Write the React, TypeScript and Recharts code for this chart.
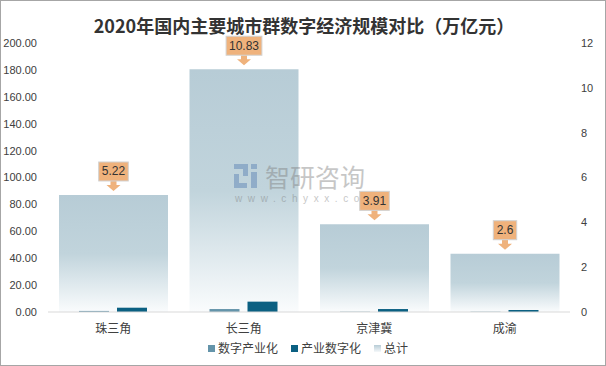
import { Bar, ComposedChart, LabelList, XAxis, YAxis } from "recharts";

const categories = ["珠三角", "长三角", "京津冀", "成渝"];
const digitalIndustry = [0.8, 2.2, 0.2, 0.2];
const industryDigital = [3.2, 7.7, 2.2, 1.5];
const totals = [5.22, 10.83, 3.91, 2.6];

const leftTicks = [0, 20, 40, 60, 80, 100, 120, 140, 160, 180, 200];
const rightTicks = [0, 2, 4, 6, 8, 10, 12];

const COLORS = {
  digitalIndustry: "#6494AA",
  industryDigital: "#0B6082",
  callout: "#EFB27C",
  text: "#404040",
};

const data = categories.map((name, i) => ({
  name,
  digitalIndustry: digitalIndustry[i],
  industryDigital: industryDigital[i],
  total: totals[i],
}));

const FONT = "'Liberation Sans', 'Noto Sans CJK SC', sans-serif";
const CJK = "'Noto Sans CJK SC', sans-serif";

function Callout(props: any) {
  const { x, y, width, value } = props;
  const cx = x + width / 2;
  const tip = y - 4;
  const bb = tip - 10;
  const label = String(value);
  const w = label.replace(".", "").length * 6.2 + 3 + 8;
  const h = 19;
  return (
    <g>
      <polygon
        points={`${cx - 3},${bb} ${cx + 3},${bb} ${cx + 3},${bb + 4} ${cx + 7},${bb + 4} ${cx},${tip} ${cx - 7},${bb + 4} ${cx - 3},${bb + 4}`}
        fill={COLORS.callout}
      />
      <rect x={cx - w / 2} y={bb - h} width={w} height={h} fill={COLORS.callout} stroke="#d2d2d2" strokeWidth={1} />
      <text x={cx} y={bb - h / 2 + 4} textAnchor="middle" fontSize={12} fill="#333" fontFamily={FONT}>
        {label}
      </text>
    </g>
  );
}

function Watermark() {
  return (
    <div style={{ position: "absolute", left: 233, top: 161, pointerEvents: "none", opacity: 0.42 }}>
      <svg width={26} height={26} style={{ position: "absolute", left: 0, top: 2 }}>
        <rect x={0} y={0} width={14} height={5} fill="#4f78b0" />
        <rect x={9} y={0} width={5} height={12} fill="#4f78b0" />
        <rect x={0} y={10} width={5} height={14} fill="#4f78b0" />
        <rect x={5} y={19} width={8} height={5} fill="#4f78b0" />
        <rect x={17} y={0} width={6} height={5} fill="#4f78b0" />
        <rect x={17} y={8} width={6} height={16} fill="#4f78b0" />
      </svg>
      <div
        style={{
          position: "absolute",
          left: 31,
          top: 1,
          fontSize: 25,
          lineHeight: "26px",
          height: 26,
          color: "#7a7a7a",
          fontFamily: CJK,
          whiteSpace: "nowrap",
        }}
      >
        智研咨询
      </div>
      <div
        style={{
          position: "absolute",
          left: 1,
          top: 31,
          fontSize: 10,
          lineHeight: "12px",
          color: "#7a7a7a",
          fontFamily: FONT,
          whiteSpace: "nowrap",
          letterSpacing: 5.6,
        }}
      >
        www.chyxx.co
      </div>
    </div>
  );
}

function LegendBox() {
  const items = [
    { label: "数字产业化", fill: COLORS.digitalIndustry },
    { label: "产业数字化", fill: COLORS.industryDigital },
    { label: "总计", fill: "linear-gradient(#B7CCD6, #F5F8FA)" },
  ];
  return (
    <div
      style={{
        position: "absolute",
        left: 207,
        top: 338,
        display: "flex",
        alignItems: "center",
        fontSize: 12,
        color: COLORS.text,
        fontFamily: CJK,
        lineHeight: "18px",
      }}
    >
      {items.map((it) => (
        <span key={it.label} style={{ display: "flex", alignItems: "center", marginRight: 13 }}>
          <span style={{ display: "inline-block", width: 7, height: 7, background: it.fill, marginRight: 3 }} />
          {it.label}
        </span>
      ))}
    </div>
  );
}

export default function App() {
  return (
    <div
      style={{
        position: "absolute",
        left: 0,
        top: 0,
        width: 606,
        height: 366,
        boxSizing: "border-box",
        border: "1px solid #a6a6a6",
        background: "#fff",
        overflow: "hidden",
      }}
    >
      <div
        style={{
          position: "absolute",
          left: 0,
          top: 11,
          width: 606,
          textAlign: "center",
          fontSize: 18,
          fontWeight: "bold",
          color: "#333",
          fontFamily: CJK,
          lineHeight: "26px",
        }}
      >
        2020年国内主要城市群数字经济规模对比（万亿元）
      </div>
      <div style={{ position: "absolute", left: -1, top: -1 }}>
        <ComposedChart
          width={606}
          height={366}
          data={data}
          barGap={8}
          margin={{ top: 43, right: 0, bottom: 30, left: 0 }}
        >
          <defs>
            <linearGradient id="totalGrad" x1="0" y1="0" x2="0" y2="1">
              <stop offset="0" stopColor="#B7CCD6" />
              <stop offset="0.5" stopColor="#C1D4DC" />
              <stop offset="1" stopColor="#FAFCFD" />
            </linearGradient>
          </defs>
          <XAxis
            xAxisId="a"
            dataKey="name"
            height={24}
            tickLine={false}
            tickSize={0}
            tickMargin={12}
            axisLine={{ stroke: "#d9d9d9" }}
            tick={{ fontSize: 12, fill: COLORS.text, fontFamily: CJK }}
          />
          <XAxis xAxisId="b" dataKey="name" hide />
          <YAxis
            yAxisId="left"
            orientation="left"
            width={48}
            domain={[0, 200]}
            ticks={leftTicks}
            interval={0}
            axisLine={false}
            tickLine={false}
            tickSize={0}
            tickMargin={11}
            tickFormatter={(v: number) => v.toFixed(2)}
            tick={{ fontSize: 11, fill: COLORS.text, fontFamily: FONT }}
          />
          <YAxis
            yAxisId="right"
            orientation="right"
            width={36}
            domain={[0, 12]}
            ticks={rightTicks}
            interval={0}
            axisLine={false}
            tickLine={false}
            tickSize={0}
            tickMargin={11}
            tick={{ fontSize: 11, fill: COLORS.text, fontFamily: FONT }}
          />
          <Bar
            dataKey="total"
            name="总计"
            xAxisId="b"
            yAxisId="right"
            fill="url(#totalGrad)"
            barSize={109}
            isAnimationActive={false}
          >
            <LabelList dataKey="total" content={<Callout />} />
          </Bar>
          <Bar
            dataKey="digitalIndustry"
            name="数字产业化"
            xAxisId="a"
            yAxisId="left"
            fill={COLORS.digitalIndustry}
            barSize={30}
            isAnimationActive={false}
          />
          <Bar
            dataKey="industryDigital"
            name="产业数字化"
            xAxisId="a"
            yAxisId="left"
            fill={COLORS.industryDigital}
            barSize={30}
            isAnimationActive={false}
          />
        </ComposedChart>
      </div>
      <Watermark />
      <LegendBox />
    </div>
  );
}
